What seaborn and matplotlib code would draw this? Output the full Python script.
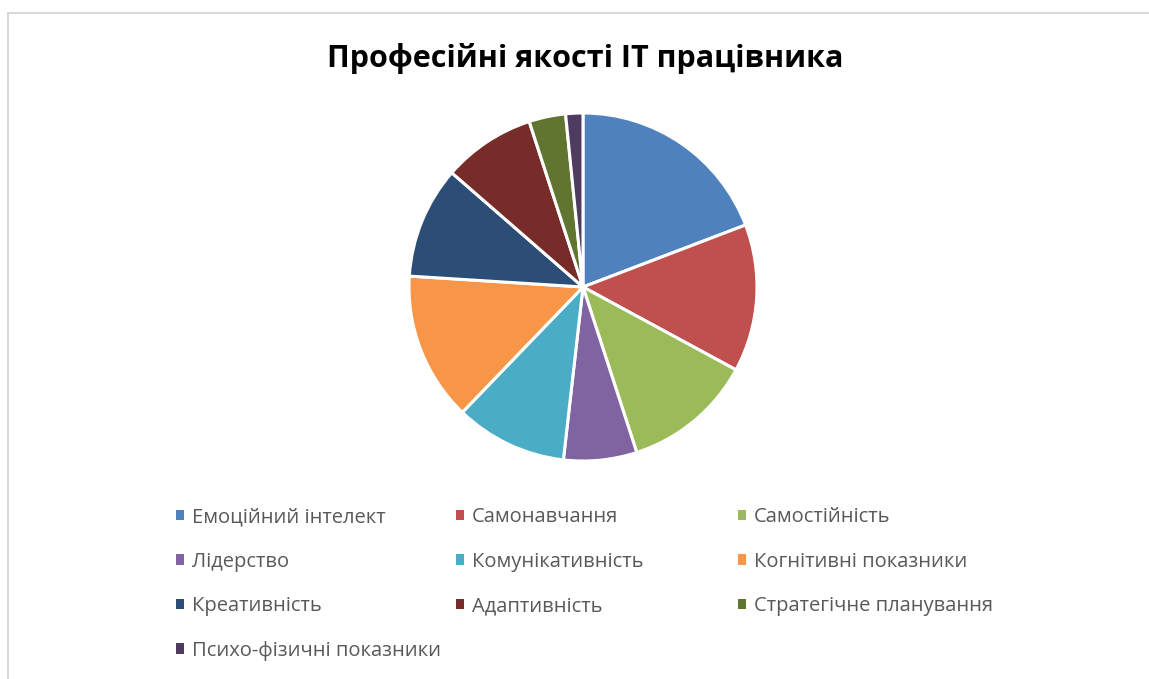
import matplotlib
matplotlib.use("Agg")
import matplotlib.pyplot as plt
import seaborn as sns
from matplotlib.lines import Line2D
from matplotlib.patches import Patch

sns.set_theme(style="white")
plt.rcParams['font.family'] = ['Open Sans', 'DejaVu Sans']

# data (shares, %)
categories = ["Емоційний інтелект", "Самонавчання", "Самостійність", "Лідерство",
              "Комунікативність", "Когнітивні показники", "Креативність",
              "Адаптивність", "Стратегічне планування", "Психо-фізичні показники"]
values = [19.2, 13.7, 12.1, 6.8, 10.4, 13.8, 10.4, 8.6, 3.4, 1.6]
colors = ["#4F81BD", "#C0504D", "#9BBB59", "#8064A2", "#4BACC6",
          "#F79646", "#2C4D75", "#772C2A", "#5F7530", "#4D3B62"]

W, H = 1149, 679
fig = plt.figure(figsize=(W / 100, H / 100), dpi=100)

# pie axes: centre (583, 287) px, radius ~174 px
cx, cy, r = 583, 287, 174
ax = fig.add_axes([(cx - r) / W, (H - cy - r) / H, 2 * r / W, 2 * r / H])
ax.pie(values, colors=colors, startangle=90, counterclock=False, radius=1,
       wedgeprops=dict(edgecolor="white", linewidth=2.2))
ax.set_xlim(-1, 1)
ax.set_ylim(-1, 1)
ax.set_aspect("equal")
ax.axis("off")

fig.text(585 / W, 1 - 59 / H, "Професійні якості ІТ працівника", ha="center", va="center",
         fontsize=22, fontweight="bold", color="black")

# legend, filled row by row in three columns
col_x = [166, 446, 728]
for c in range(3):
    idx = list(range(c, len(categories), 3))
    handles = [Patch(facecolor=colors[i], edgecolor="none") for i in idx]
    labels = [categories[i] for i in idx]
    fig.legend(handles, labels, loc="upper left",
               bbox_to_anchor=(col_x[c] / W, 1 - 497 / H), frameon=False,
               fontsize=14.5, labelcolor="#595959", handlelength=0.4, handleheight=0.4,
               handletextpad=0.4, labelspacing=1.22, borderpad=0)

# chart-area border (top and left edges visible)
border = "#D9D9D9"
fig.add_artist(Line2D([8 / W, 1], [1 - 13 / H, 1 - 13 / H], transform=fig.transFigure,
                      color=border, linewidth=1.5))
fig.add_artist(Line2D([8 / W, 8 / W], [0, 1 - 13 / H], transform=fig.transFigure,
                      color=border, linewidth=1.5))

fig.savefig("out.png", dpi=100, facecolor="white")
